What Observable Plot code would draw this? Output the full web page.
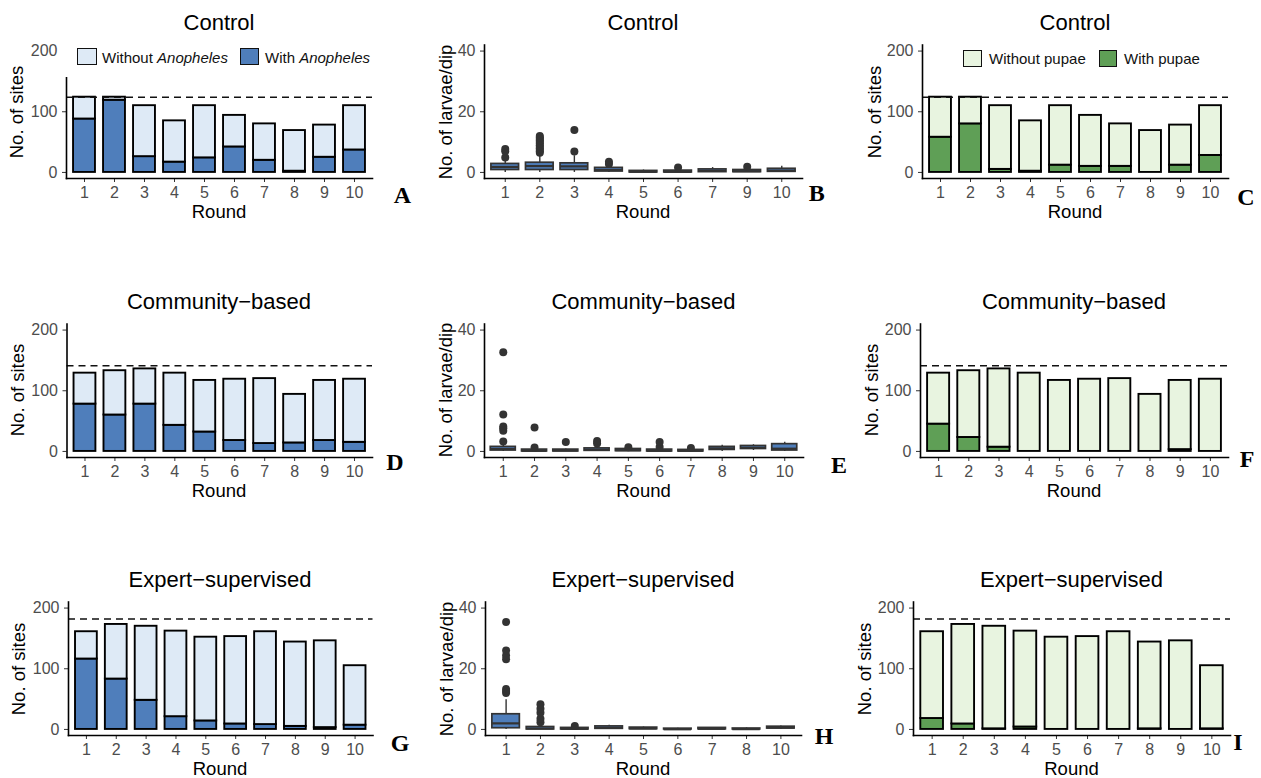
<!DOCTYPE html>
<html><head><meta charset="utf-8">
<script src="https://cdn.jsdelivr.net/npm/d3@7"></script>
<script src="https://cdn.jsdelivr.net/npm/@observablehq/plot@0.6"></script>
<style>
body{margin:0;background:#fff;}
#root{position:relative;width:1261px;height:778px;overflow:hidden;font-family:"Liberation Sans",Arial,Helvetica,sans-serif;background:#fff;}
.abs{position:absolute;white-space:nowrap;line-height:1;}
.ctr{transform:translate(-50%,-50%);}
.title{font-size:22px;color:#000;}
.axt{font-size:18.5px;color:#000;}
.rot{transform:translate(-50%,-50%) rotate(-90deg);}
.letter{font-family:"Liberation Serif","Times New Roman",serif;font-weight:bold;font-size:24px;color:#000;}
.lgbg{position:absolute;background:#fff;z-index:2;}
.key{position:absolute;box-sizing:border-box;border:1.6px solid #111;z-index:3;}
.lgt{position:absolute;font-size:15px;color:#111;line-height:1;white-space:nowrap;z-index:3;transform:translateY(-50%);}
.pw{position:absolute;}
</style>
</head><body><div id="root"></div>
<script>
// ---------- data ----------
const rounds = ["1","2","3","4","5","6","7","8","9","10"];
const armTitles = ["Control", "Community\u2212based", "Expert\u2212supervised"];
const sitesPerArm = [124, 141, 182];
const siteTicks = [0, 100, 200];
const larvaeTicks = [0, 20, 40];

const controlTotal = [124,124,110,85,110,94,80,69,78,110];
const controlWithAnopheles = [88,119,26,17,24,42,20,2,25,37];
const controlWithPupae = [58,80,5,2,12,10,10,0,12,28];

const communityTotal = [129,133,136,129,117,119,120,94,117,119];
const communityWithAnopheles = [78,60,78,43,32,18,13,14,18,15];
const communityWithPupae = [45,23,7,0,0,0,0,0,3,0];

const expertTotal = [161,173,170,162,152,153,161,144,146,105];
const expertWithAnopheles = [116,83,48,21,14,9,8,5,3,7];
const expertWithPupae = [18,9,1,4,0,0,0,1,0,1];

// boxplot summaries (larvae per dip)
const controlBoxRounds = ["1","2","3","4","5","6","7","9","10"];
const controlQ1  = [0.8,0.8,0.8,0.3,0.0,0.0,0.1,0.1,0.2];
const controlMed = [1.8,2.1,2.0,0.8,0.2,0.2,0.5,0.4,0.6];
const controlQ3  = [2.8,3.2,3.0,1.5,0.5,0.6,1.0,0.8,1.2];
const controlLo  = [0,0,0,0,0,0,0,0,0];
const controlHi  = [4.5,6.0,5.5,2.4,0.8,1.2,1.6,1.2,2.0];
const controlOutRounds = ["1","1","1","2","2","2","2","2","2","2","2","2","2","2","2","3","3","4","4","6","9"];
const controlOutValues = [4.9,7.0,7.7,6.5,7.0,7.5,8.0,8.5,9.0,9.5,10.0,10.5,11.0,11.5,12.0,6.9,14.0,2.8,3.5,1.6,1.9];

const communityBoxRounds = ["1","2","3","4","5","6","7","8","9","10"];
const communityQ1  = [0.3,0.0,0.0,0.2,0.1,0.0,0.0,0.5,0.8,0.3];
const communityMed = [0.8,0.2,0.3,0.5,0.4,0.2,0.2,1.0,1.2,0.9];
const communityQ3  = [1.5,0.6,0.6,1.0,0.8,0.6,0.5,1.5,1.8,2.4];
const communityLo  = [0,0,0,0,0,0,0,0,0.3,0];
const communityHi  = [3.0,1.0,0.8,1.8,1.2,1.0,0.8,2.0,2.2,3.0];
const communityOutRounds = ["1","1","1","1","1","1","2","2","3","4","4","5","6","6","7"];
const communityOutValues = [3.3,6.8,7.6,8.2,12.2,32.7,1.3,7.9,3.1,2.6,3.4,1.4,1.5,3.1,1.1];

const expertBoxRounds = ["1","2","3","4","5","6","7","8","10"];
const expertQ1  = [0.4,0.0,0.0,0.2,0.1,0.0,0.05,0.0,0.3];
const expertMed = [2.0,0.3,0.2,0.5,0.3,0.05,0.2,0.1,0.6];
const expertQ3  = [5.0,0.8,0.5,1.0,0.6,0.25,0.5,0.3,0.9];
const expertLo  = [0,0,0,0,0,0,0,0,0];
const expertHi  = [9.8,1.6,0.8,1.4,0.8,0.4,0.6,0.5,1.1];
const expertOutRounds = ["1","1","1","1","1","1","1","2","2","2","2","2","3"];
const expertOutValues = [12.0,12.7,13.3,23.1,24.4,26.0,35.4,2.4,3.5,5.5,6.8,8.3,1.1];

// ---------- styling / layout ----------
const blueDark = "#4F7EBB", blueLight = "#DEEAF6";
const greenDark = "#5F9F56", greenLight = "#E8F4E0";
const boxFill = "#4F7EBB";
const rowTop = [0, 278.5, 557];
const colLeft = [0, 420, 840];
const colWidth = [420, 420, 421];
const font = '"Liberation Sans", Arial, Helvetica, sans-serif';

const root = document.getElementById("root");
function addDiv(html, x, y, cls) {
  const d = document.createElement("div");
  d.className = "abs " + cls;
  d.style.left = x + "px"; d.style.top = y + "px";
  d.innerHTML = html;
  root.appendChild(d);
  return d;
}

function commonAxes(ticks) {
  return [
    Plot.axisX({tickSize: 4, tickPadding: 4, fontSize: 16, label: null, stroke: "#333", fill: "#4d4d4d"}),
    Plot.axisY(ticks, {tickSize: 4, tickPadding: 5, fontSize: 16, label: null, stroke: "#333", fill: "#4d4d4d"}),
    Plot.frame({anchor: "left", stroke: "#000", strokeWidth: 1.6}),
    Plot.frame({anchor: "bottom", stroke: "#000", strokeWidth: 1.6})
  ];
}

function place(svg, col, row) {
  const w = document.createElement("div");
  w.className = "pw";
  w.style.left = colLeft[col] + "px";
  w.style.top = (rowTop[row] + 30) + "px";
  w.appendChild(svg);
  root.appendChild(w);
}

function barPanel(col, row, x0, x1, total, withv, ref, dark, light) {
  const long = [];
  rounds.forEach((r, i) => {
    long.push({round: r, type: "With", n: withv[i]});
    long.push({round: r, type: "Without", n: total[i] - withv[i]});
  });
  const svg = Plot.plot({
    width: colWidth[col], height: 172,
    marginTop: 14.5, marginBottom: 24,
    marginLeft: x0 - colLeft[col], marginRight: colLeft[col] + colWidth[col] - x1,
    style: {fontFamily: font, background: "transparent", overflow: "visible"},
    x: {type: "band", domain: rounds, paddingInner: 0.27, paddingOuter: 0.235, round: false},
    y: {domain: [-10, 210]},
    color: {domain: ["With", "Without"], range: [dark, light]},
    marks: [
      Plot.barY(long, {x: "round", y: "n", fill: "type", stroke: "#000", strokeWidth: 1.9}),
      Plot.ruleY([ref], {stroke: "#111", strokeWidth: 1.5, strokeDasharray: "7,5"}),
      ...commonAxes(siteTicks)
    ]
  });
  place(svg, col, row);
}

function boxPanel(col, row, x0, x1, cats, q1, med, q3, lo, hi, outR, outV) {
  const stats = cats.map((r, i) => ({round: r, q1: q1[i], med: med[i], q3: q3[i], lo: lo[i], hi: hi[i]}));
  const outs = outR.map((r, i) => ({round: r, v: outV[i]}));
  const svg = Plot.plot({
    width: colWidth[col], height: 172,
    marginTop: 14.5, marginBottom: 24,
    marginLeft: x0 - colLeft[col], marginRight: colLeft[col] + colWidth[col] - x1,
    style: {fontFamily: font, background: "transparent", overflow: "visible"},
    x: {type: "band", domain: cats, paddingInner: 0.2, paddingOuter: 0.2, round: false},
    y: {domain: [-2, 42]},
    marks: [
      Plot.ruleX(stats, {x: "round", y1: "lo", y2: "hi", stroke: "#333", strokeWidth: 1.4}),
      Plot.barY(stats, {x: "round", y1: "q1", y2: "q3", fill: boxFill, stroke: "#333", strokeWidth: 1.7}),
      Plot.tickY(stats, {x: "round", y: "med", stroke: "#333", strokeWidth: 2.2}),
      Plot.dot(outs, {x: "round", y: "v", r: 4, fill: "#333", stroke: "none"}),
      ...commonAxes(larvaeTicks)
    ]
  });
  place(svg, col, row);
}

// ---------- panels ----------
barPanel(0, 0, 66, 372, controlTotal, controlWithAnopheles, sitesPerArm[0], blueDark, blueLight);
boxPanel(1, 0, 484, 802, controlBoxRounds, controlQ1, controlMed, controlQ3, controlLo, controlHi, controlOutRounds, controlOutValues);
barPanel(2, 0, 922, 1228, controlTotal, controlWithPupae, sitesPerArm[0], greenDark, greenLight);

barPanel(0, 1, 66.5, 372, communityTotal, communityWithAnopheles, sitesPerArm[1], blueDark, blueLight);
boxPanel(1, 1, 484, 803, communityBoxRounds, communityQ1, communityMed, communityQ3, communityLo, communityHi, communityOutRounds, communityOutValues);
barPanel(2, 1, 920, 1228, communityTotal, communityWithPupae, sitesPerArm[1], greenDark, greenLight);

barPanel(0, 2, 68, 372.5, expertTotal, expertWithAnopheles, sitesPerArm[2], blueDark, blueLight);
boxPanel(1, 2, 485, 801, expertBoxRounds, expertQ1, expertMed, expertQ3, expertLo, expertHi, expertOutRounds, expertOutValues);
barPanel(2, 2, 913, 1230, expertTotal, expertWithPupae, sitesPerArm[2], greenDark, greenLight);

// ---------- texts ----------
const plotCenters = [[219, 643, 1075], [219, 643.5, 1074], [220, 643, 1071.5]];
const yTitleX = [[17, 446, 875], [18, 446, 872], [19, 447, 865]];
const yTitles = ["No. of sites", "No. of larvae/dip", "No. of sites"];
for (let r = 0; r < 3; r++) {
  for (let c = 0; c < 3; c++) {
    addDiv(armTitles[r], plotCenters[r][c], rowTop[r] + 23.3, "title ctr");
    addDiv("Round", plotCenters[r][c], rowTop[r] + 212, "axt ctr");
    addDiv(yTitles[c], yTitleX[r][c], rowTop[r] + 111.5, "axt rot");
  }
}
const letters = ["A","B","C","D","E","F","G","H","I"];
const letterPos = [[402.5,195],[816.7,192.5],[1246,196.5],[395,462],[839,465],[1247,458.5],[400,743],[824,735.5],[1238,742]];
letters.forEach((L, i) => addDiv(L, letterPos[i][0], letterPos[i][1], "letter ctr"));

// ---------- legends ----------
function legendBlock(bx, by, bw, bh, items) {
  const bg = document.createElement("div");
  bg.className = "lgbg";
  Object.assign(bg.style, {left: bx + "px", top: by + "px", width: bw + "px", height: bh + "px"});
  root.appendChild(bg);
  items.forEach(it => {
    const k = document.createElement("div");
    k.className = "key";
    Object.assign(k.style, {left: it.kx + "px", top: it.ky + "px", width: it.kw + "px", height: it.kh + "px", background: it.fill});
    root.appendChild(k);
    const t = document.createElement("div");
    t.className = "lgt";
    t.style.left = it.tx + "px"; t.style.top = it.ty + "px";
    t.innerHTML = it.label;
    root.appendChild(t);
  });
}
legendBlock(58, 38, 320, 38.5, [
  {kx: 77, ky: 48, kw: 20, kh: 17, fill: blueLight, tx: 102, ty: 56.5, label: "Without <i>Anopheles</i>"},
  {kx: 240, ky: 48, kw: 19, kh: 17, fill: blueDark, tx: 265, ty: 56.5, label: "With <i>Anopheles</i>"}
]);
legendBlock(955, 40, 260, 34, [
  {kx: 963, ky: 49.5, kw: 19, kh: 17, fill: greenLight, tx: 989, ty: 58, label: "Without pupae"},
  {kx: 1099, ky: 49.5, kw: 18, kh: 17, fill: greenDark, tx: 1124, ty: 58, label: "With pupae"}
]);
</script>
</body></html>
